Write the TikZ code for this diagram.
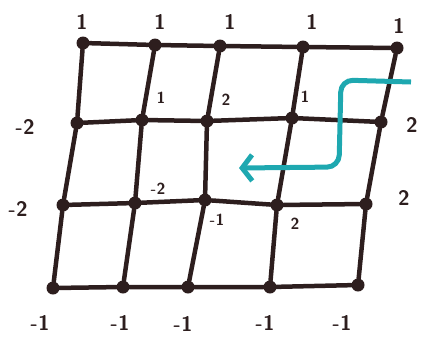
\documentclass[tikz,border=0pt]{standalone}
\usepackage{tikz}
\usetikzlibrary{arrows.meta}
\definecolor{flowcyan}{RGB}{30,168,176}
\definecolor{ink}{RGB}{45,30,30}

\begin{document}
\begin{tikzpicture}[x=1pt,y=-1pt,
  dot/.style={circle,fill=ink,inner sep=0pt,minimum size=13pt},
  edge/.style={line width=4.5pt,ink,line cap=round},
  lab/.style={font=\fontsize{21}{24}\selectfont\sffamily\bfseries,text=ink,inner sep=0pt},
  small/.style={font=\fontsize{16}{18}\selectfont\sffamily\bfseries,text=ink,inner sep=0pt}]
  \useasboundingbox (0,0) rectangle (422,341);
  % grid points
  \node[dot] (a1) at (83,43) {};
  \node[dot] (a2) at (155,45) {};
  \node[dot] (a3) at (220,46) {};
  \node[dot] (a4) at (303,47) {};
  \node[dot] (a5) at (397,48) {};
  \node[dot] (b1) at (77,123) {};
  \node[dot] (b2) at (142,120) {};
  \node[dot] (b3) at (207,121) {};
  \node[dot] (b4) at (292,118) {};
  \node[dot] (b5) at (381,122) {};
  \node[dot] (c1) at (63,205) {};
  \node[dot] (c2) at (135,203) {};
  \node[dot] (c3) at (205,200) {};
  \node[dot] (c4) at (277,205) {};
  \node[dot] (c5) at (366,204) {};
  \node[dot] (d1) at (53,288) {};
  \node[dot] (d2) at (123,287) {};
  \node[dot] (d3) at (188,287) {};
  \node[dot] (d4) at (270,287) {};
  \node[dot] (d5) at (358,285) {};
  % horizontal lines
  \draw[edge] (a1) -- (a2) -- (a3) -- (a4) -- (a5);
  \draw[edge] (b1) -- (b2) -- (b3) -- (b4) -- (b5);
  \draw[edge] (c1) -- (c2) -- (c3) -- (c4) -- (c5);
  \draw[edge] (d1) -- (d2) -- (d3) -- (d4) -- (d5);
  % vertical lines
  \draw[edge] (a1) -- (b1) -- (c1) -- (d1);
  \draw[edge] (a2) -- (b2) -- (c2) -- (d2);
  \draw[edge] (a3) -- (b3) -- (c3) -- (d3);
  \draw[edge] (a4) -- (b4) -- (c4) -- (d4);
  \draw[edge] (a5) -- (b5) -- (c5) -- (d5);
  % boundary values
  \node[lab] (t1) at (82,22) {1};
  \node[lab] (t2) at (160,22) {1};
  \node[lab] (t3) at (230,22) {1};
  \node[lab] (t4) at (312,22) {1};
  \node[lab] (t5) at (399,26) {1};
  \node[lab] (l1) at (25,127) {-2};
  \node[lab] (l2) at (18,209) {-2};
  \node[lab] (r1) at (412,125) {2};
  \node[lab] (r2) at (404,198) {2};
  \node[lab] (u1) at (40,323) {-1};
  \node[lab] (u2) at (120,323) {-1};
  \node[lab] (u3) at (183,324) {-1};
  \node[lab] (u4) at (265,323) {-1};
  \node[lab] (u5) at (342,323) {-1};
  % inner values
  \node[small] (i1) at (161,98) {1};
  \node[small] (i2) at (226,100) {2};
  \node[small] (i3) at (305,97) {1};
  \node[small] (i4) at (158,189) {-2};
  \node[small] (i5) at (217,220) {-1};
  \node[small] (i6) at (295,224) {2};
  % flow arrow
  \coordinate (flowin) at (411,82);
  \coordinate (flowout) at (239,168);
  \draw[flowcyan,line width=5pt,rounded corners=12pt,
    -{Straight Barb[length=10pt,width=26pt]}]
    (flowin) -- (341,80) -- (339,167) -- (flowout);
\end{tikzpicture}
\end{document}
